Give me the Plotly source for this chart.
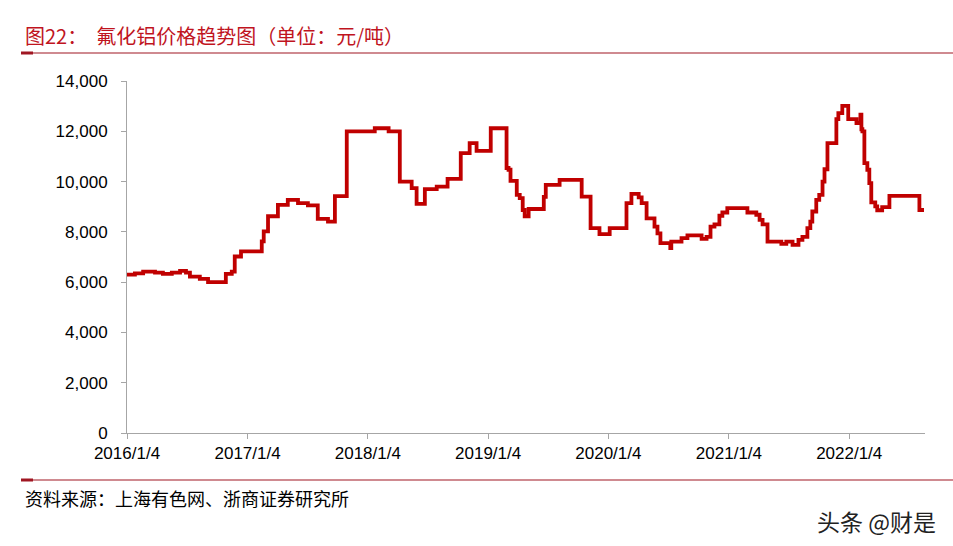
import plotly.graph_objects as go

# ---- data ----
dates = [
    "2016-01-04", "2016-01-28", "2016-02-22", "2016-03-29", "2016-04-22", "2016-05-19",
    "2016-06-13", "2016-07-01", "2016-07-13", "2016-08-12", "2016-09-06", "2016-10-30",
    "2016-11-17", "2016-11-26", "2016-12-15", "2017-02-16", "2017-02-22", "2017-03-07",
    "2017-04-06", "2017-05-06", "2017-06-06", "2017-07-06", "2017-08-05", "2017-09-05",
    "2017-09-26", "2017-11-01", "2018-01-25", "2018-03-08", "2018-04-11", "2018-05-17",
    "2018-06-01", "2018-06-26", "2018-08-01", "2018-09-03", "2018-10-13", "2018-11-09",
    "2018-11-30", "2019-01-12", "2019-03-01", "2019-03-07", "2019-03-13", "2019-04-01",
    "2019-04-10", "2019-04-19", "2019-04-25", "2019-05-07", "2019-06-22", "2019-06-28",
    "2019-08-09", "2019-10-15", "2019-11-11", "2019-12-08", "2020-01-08", "2020-02-28",
    "2020-03-14", "2020-04-05", "2020-04-14", "2020-04-29", "2020-05-23", "2020-06-01",
    "2020-06-10", "2020-07-10", "2020-07-13", "2020-08-13", "2020-08-31", "2020-10-13",
    "2020-10-28", "2020-11-09", "2020-11-21", "2020-12-06", "2020-12-15", "2020-12-30",
    "2021-03-01", "2021-03-28", "2021-04-07", "2021-04-16", "2021-05-01", "2021-06-12",
    "2021-06-27", "2021-07-16", "2021-08-03", "2021-08-15", "2021-08-30", "2021-09-08",
    "2021-09-14", "2021-09-26", "2021-10-05", "2021-10-15", "2021-10-21", "2021-10-30",
    "2021-11-26", "2021-12-02", "2021-12-14", "2022-01-01", "2022-01-26", "2022-02-07",
    "2022-02-10", "2022-02-13", "2022-02-19", "2022-02-28", "2022-03-06", "2022-03-12",
    "2022-03-24", "2022-03-30", "2022-04-14", "2022-05-06", "2022-08-05", "2022-08-19",
]
prices = [
    6300, 6350, 6420, 6380, 6330, 6380,
    6450, 6380, 6220, 6130, 6000, 6330,
    6420, 7020, 7220, 7620, 8020, 8620,
    9070, 9270, 9140, 9050, 8520, 8410,
    9420, 12000, 12120, 12000, 10000, 9740,
    9110, 9700, 9800, 10110, 11130, 11530,
    11220, 12120, 10540, 10470, 10030, 9470,
    9340, 8870, 8620, 8910, 9390, 9870,
    10070, 9400, 8150, 7910, 8150, 9140,
    9510, 9370, 9140, 8540, 8210, 7940,
    7550, 7350, 7610, 7750, 7860, 7720,
    7800, 8210, 8300, 8640, 8770, 8940,
    8770, 8680, 8480, 8300, 7610, 7520,
    7610, 7480, 7680, 7800, 8150, 8410,
    8810, 9270, 9470, 10000, 10490, 11530,
    12480, 12720, 13010, 12480, 12330, 12660,
    12080, 12000, 10730, 10470, 9940, 9170,
    9010, 8860, 8980, 9430, 8870, 8870,
]
tick_dates = ["2016-01-04", "2017-01-04", "2018-01-04", "2019-01-04",
              "2020-01-04", "2021-01-04", "2022-01-04"]
tick_labels = ["2016/1/4", "2017/1/4", "2018/1/4", "2019/1/4",
               "2020/1/4", "2021/1/4", "2022/1/4"]
title_text = "图22：  氟化铝价格趋势图（单位：元/吨）"
source_text = "资料来源：上海有色网、浙商证券研究所"
watermark_text = "头条 @财是"

W, H = 953, 546
L, R, T, B = 127, 28, 81, 113
PW, PH = W - L - R, H - T - B


def px(x):
    return (x - L) / PW


def py(y):
    return (H - B - y) / PH


fig = go.Figure()
fig.add_trace(go.Scatter(
    x=dates, y=prices, mode="lines", line_shape="hv",
    line=dict(color="#C00000", width=3.8), showlegend=False,
))

axis_font = dict(family="Arial, Liberation Sans, sans-serif", size=17, color="#000000")

fig.update_layout(
    width=W, height=H,
    margin=dict(l=L, r=R, t=T, b=B),
    paper_bgcolor="white", plot_bgcolor="white",
    xaxis=dict(
        type="date", range=["2016-01-04", "2022-08-22"],
        tickvals=tick_dates, ticktext=tick_labels,
        showgrid=False, zeroline=False,
        showline=True, linecolor="#A6A6A6", linewidth=1,
        ticks="outside", ticklen=5, tickcolor="#A6A6A6",
        tickfont=axis_font,
    ),
    yaxis=dict(
        range=[0, 14000], dtick=2000, tickformat=",",
        showgrid=False, zeroline=False,
        showline=True, linecolor="#A6A6A6", linewidth=1,
        ticks="outside", ticklen=5, tickcolor="#A6A6A6",
        tickfont=axis_font, ticklabelstandoff=10,
    ),
)

cjk = "Noto Sans CJK SC, sans-serif"

fig.add_annotation(
    text=title_text, xref="paper", yref="paper",
    x=px(23), y=py(35), xanchor="left", yanchor="middle",
    showarrow=False, font=dict(family=cjk, size=20, color="#C0141E"),
)
fig.add_annotation(
    text=source_text, xref="paper", yref="paper",
    x=px(23), y=py(498), xanchor="left", yanchor="middle",
    showarrow=False, font=dict(family=cjk, size=18, color="#000000"),
)
fig.add_annotation(
    text=watermark_text, xref="paper", yref="paper",
    x=px(938), y=py(521), xanchor="right", yanchor="middle",
    showarrow=False, font=dict(family=cjk, size=23, color="#222222"),
)

# rule lines under title and above source
for yline in (53, 480):
    fig.add_shape(type="line", xref="paper", yref="paper",
                  x0=px(21), x1=px(953), y0=py(yline), y1=py(yline),
                  line=dict(color="#A01622", width=1.2))
    fig.add_shape(type="line", xref="paper", yref="paper",
                  x0=px(21), x1=px(33), y0=py(yline), y1=py(yline),
                  line=dict(color="#A01622", width=3))

fig.write_html(
    "out.html",
    config={"displayModeBar": False},
    post_script="document.body.style.margin='0';document.body.style.padding='0';",
)
